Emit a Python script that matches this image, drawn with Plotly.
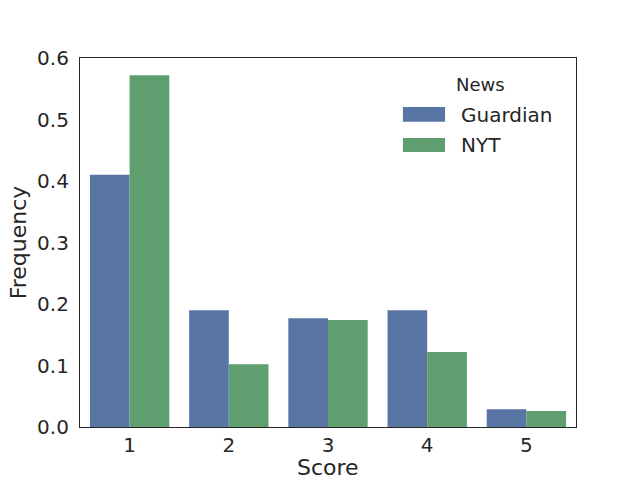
import plotly.graph_objects as go

scores = ["1", "2", "3", "4", "5"]
guardian = [0.410, 0.190, 0.177, 0.190, 0.029]
nyt = [0.572, 0.102, 0.174, 0.122, 0.026]
series_names = ["Guardian", "NYT"]
colors = ["#5975A4", "#5F9E6E"]

font = "DejaVu Sans"
txt = "#262626"

fig = go.Figure()
for name, vals, c in zip(series_names, [guardian, nyt], colors):
    fig.add_trace(go.Bar(x=scores, y=vals, name=name, marker=dict(color=c, line=dict(width=0)), showlegend=False))

# custom legend (matplotlib style wide patches)
fig.add_annotation(xref="paper", yref="paper", x=0.808, y=0.927, text="News", showarrow=False,
                   font=dict(size=18, family=font, color=txt), xanchor="center", yanchor="middle")
legend_rows = [(0.867, 0.827, 0.846), (0.783, 0.745, 0.764)]
for (y1, y0, yt), name, c in zip(legend_rows, series_names, colors):
    fig.add_shape(type="rect", xref="paper", yref="paper", x0=0.651, x1=0.736, y0=y0, y1=y1,
                  fillcolor=c, line=dict(width=0))
    fig.add_annotation(xref="paper", yref="paper", x=0.764, y=yt, text=name, showarrow=False,
                       font=dict(size=20, family=font, color=txt), xanchor="left", yanchor="middle")

# x axis title
fig.add_annotation(xref="paper", yref="paper", x=0.5, y=-0.110, text="Score", showarrow=False,
                   font=dict(size=22, family=font, color=txt), xanchor="center", yanchor="middle",
                   borderpad=0)

fig.update_layout(
    width=640, height=480,
    margin=dict(l=80, r=64, t=58, b=53),
    paper_bgcolor="white", plot_bgcolor="white",
    barmode="group", bargap=0.2, bargroupgap=0,
    font=dict(family=font, color=txt, size=20),
    showlegend=False,
    xaxis=dict(
        showline=True, linecolor=txt, linewidth=1.25, mirror=True, automargin=False,
        ticks="", showgrid=False, tickfont=dict(size=20), range=[-0.5, 4.5],
    ),
    yaxis=dict(
        title=dict(text="Frequency", font=dict(size=22), standoff=4),
        showline=True, linecolor=txt, linewidth=1.25, mirror=True, automargin=False,
        ticks="outside", ticklen=6, tickcolor="rgba(0,0,0,0)",
        showgrid=False, tickfont=dict(size=20), range=[0, 0.6],
        tickvals=[0, 0.1, 0.2, 0.3, 0.4, 0.5, 0.6], tickformat=".1f",
        zeroline=False,
    ),
)

fig.write_html("out.html")
